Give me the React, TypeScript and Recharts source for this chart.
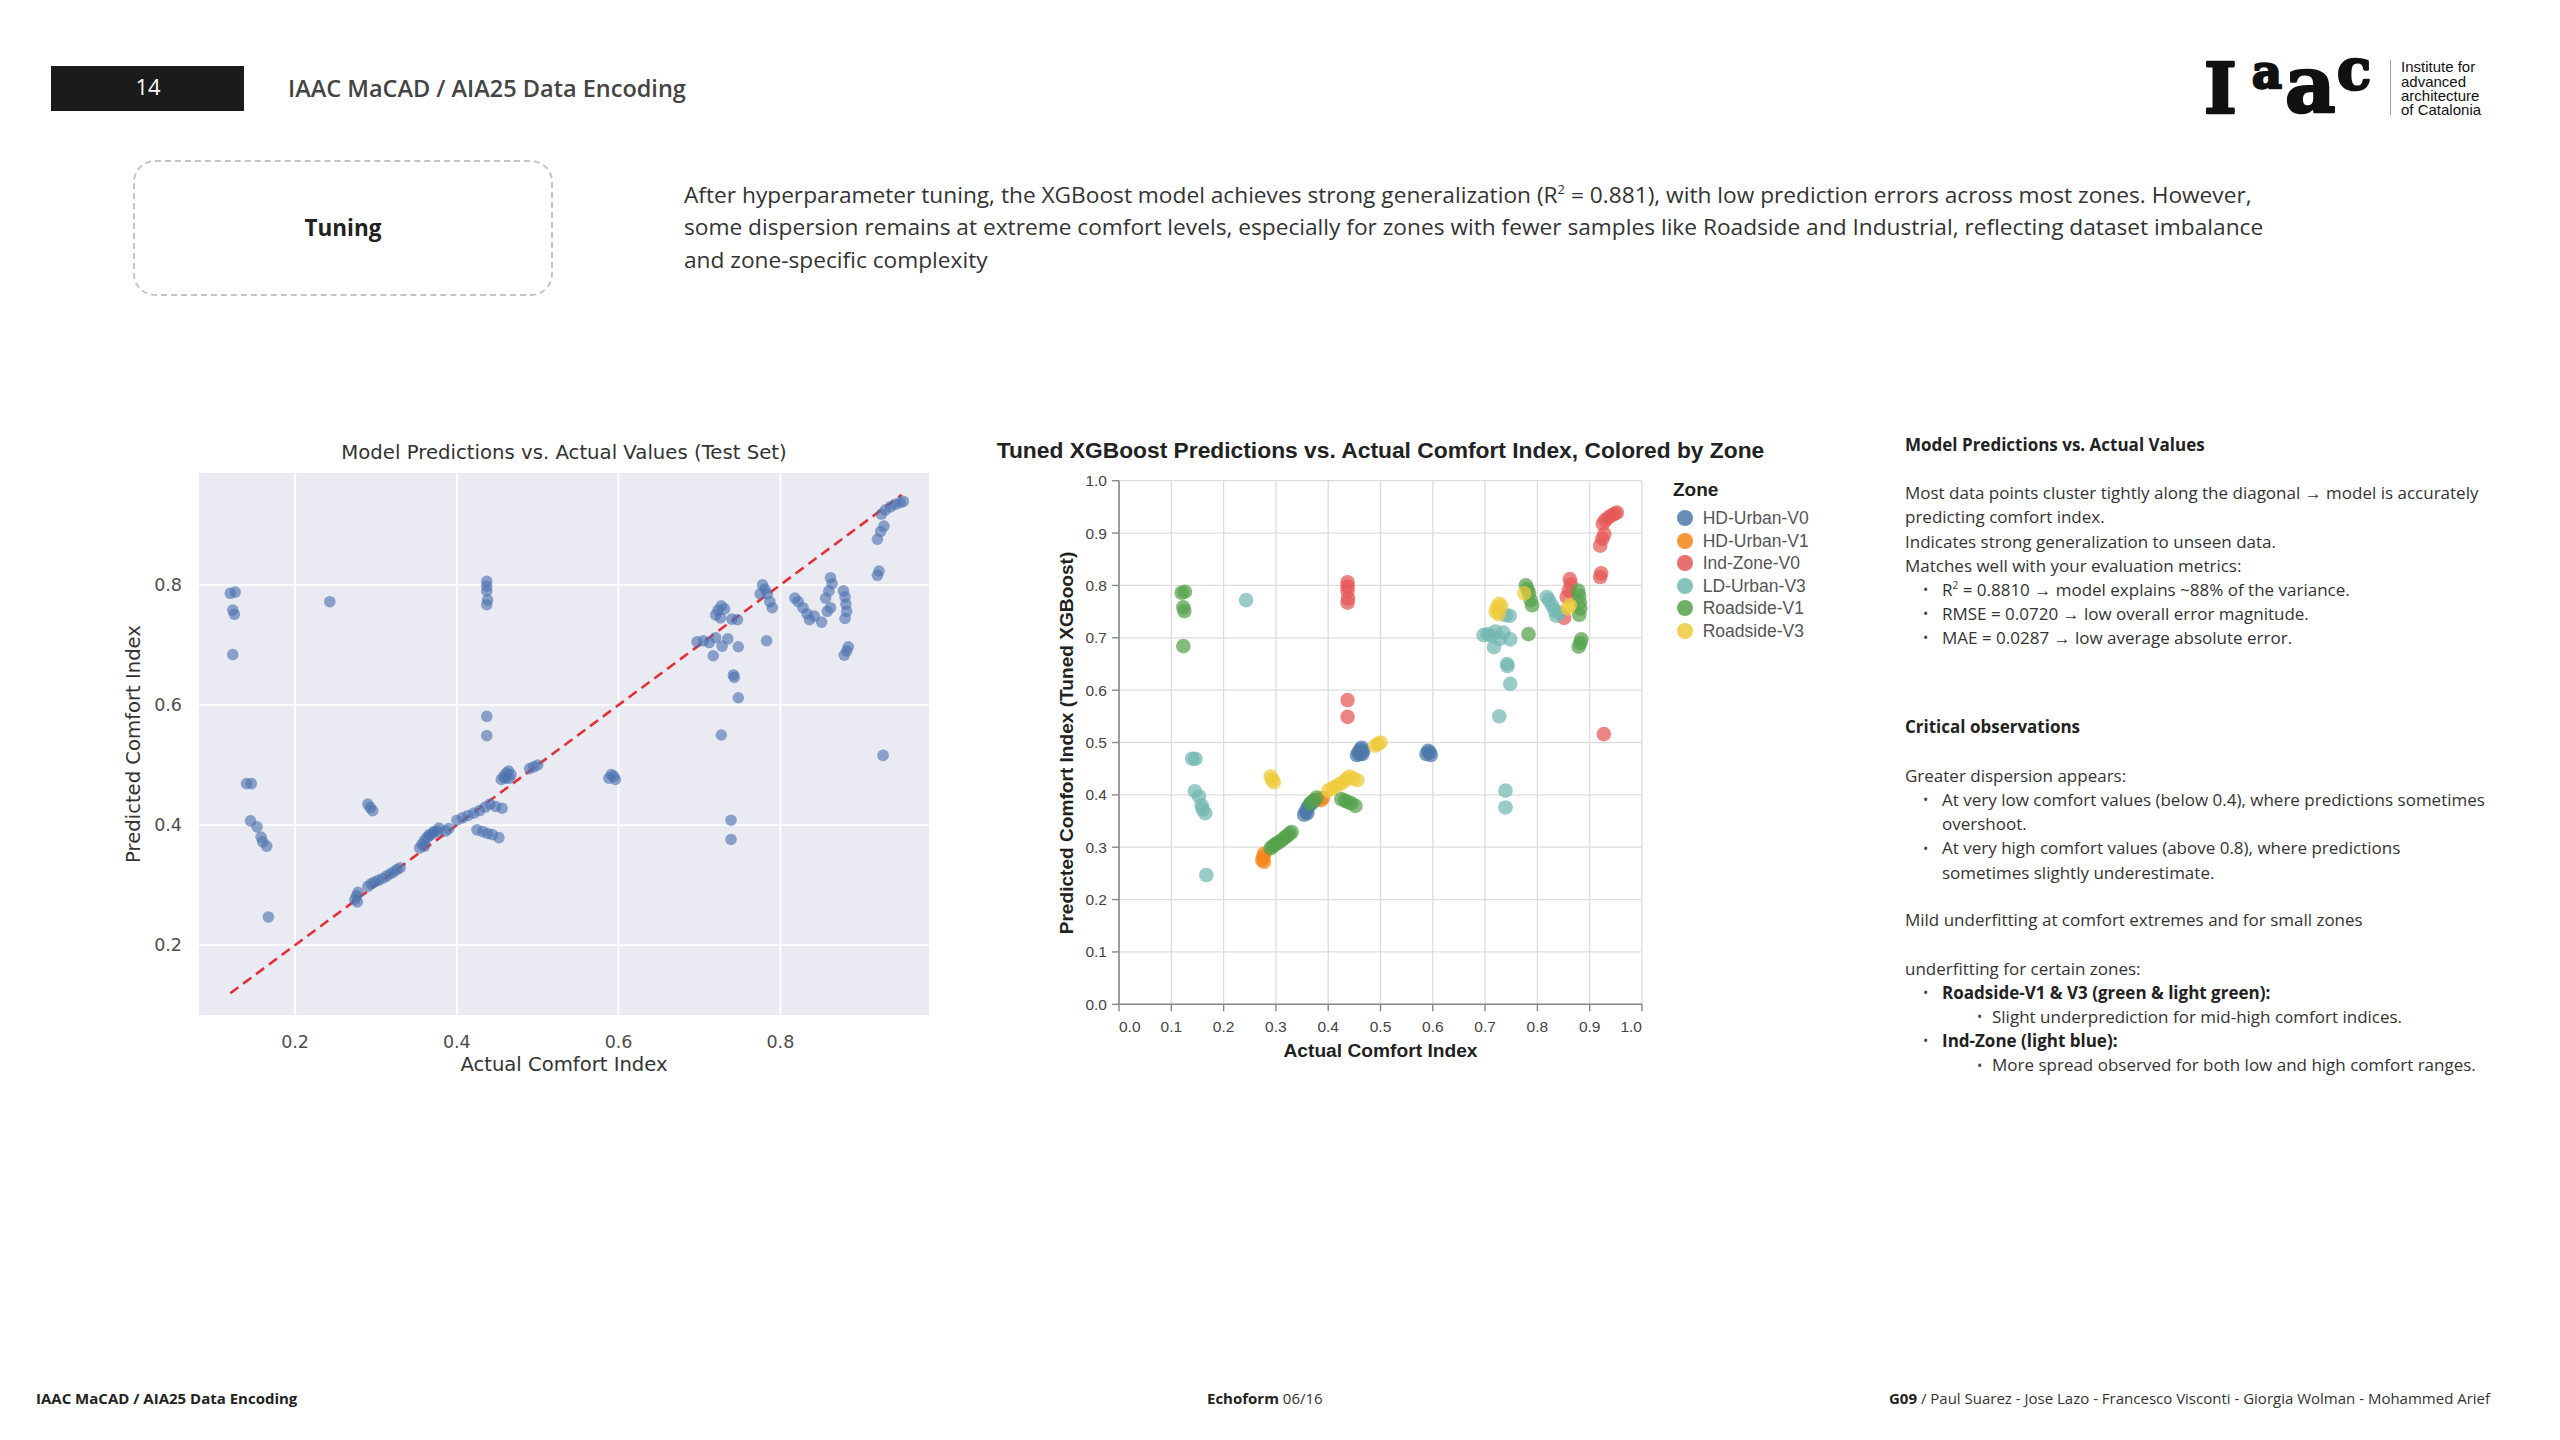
import React from 'react';
import { ScatterChart, Scatter, XAxis, YAxis, CartesianGrid, ReferenceLine, Legend } from 'recharts';

// ---------------- DATA ----------------
const zoneNames = ['HD-Urban-V0', 'HD-Urban-V1', 'Ind-Zone-V0', 'LD-Urban-V3', 'Roadside-V1', 'Roadside-V3'];
const zoneColors = ['#4c78a8', '#f58518', '#e45756', '#72b7b2', '#54a24b', '#eeca3b'];

// [actual, predicted]
const hdUrbanV0: [number, number][] = [
  [0.354, 0.362], [0.357, 0.368], [0.36, 0.374], [0.363, 0.379], [0.367, 0.383], [0.371, 0.387], [0.376, 0.39], [0.36, 0.365],
  [0.455, 0.476], [0.458, 0.481], [0.461, 0.486], [0.464, 0.49], [0.467, 0.484], [0.46, 0.478], [0.465, 0.478],
  [0.588, 0.478], [0.591, 0.484], [0.594, 0.481], [0.596, 0.476],
];
const hdUrbanV1: [number, number][] = [
  [0.274, 0.276], [0.276, 0.282], [0.278, 0.288], [0.277, 0.272], [0.386, 0.39], [0.39, 0.394],
];
const indZoneV0: [number, number][] = [
  [0.437, 0.806], [0.437, 0.798], [0.437, 0.79], [0.438, 0.775], [0.437, 0.767], [0.437, 0.581], [0.437, 0.549],
  [0.862, 0.812], [0.864, 0.802], [0.86, 0.79], [0.856, 0.778], [0.851, 0.738],
  [0.92, 0.816], [0.922, 0.823], [0.92, 0.876], [0.924, 0.889], [0.928, 0.898], [0.925, 0.918], [0.93, 0.925],
  [0.936, 0.93], [0.942, 0.934], [0.948, 0.937], [0.952, 0.939], [0.927, 0.516],
];
const ldUrbanV3: [number, number][] = [
  [0.14, 0.469], [0.146, 0.469], [0.145, 0.407], [0.153, 0.397], [0.158, 0.38], [0.16, 0.372], [0.165, 0.365], [0.167, 0.247],
  [0.243, 0.772], [0.697, 0.705], [0.705, 0.707], [0.712, 0.704], [0.717, 0.682], [0.72, 0.712], [0.728, 0.698],
  [0.735, 0.71], [0.74, 0.743], [0.747, 0.742], [0.748, 0.697], [0.742, 0.65], [0.743, 0.646], [0.748, 0.612],
  [0.727, 0.55], [0.739, 0.408], [0.739, 0.376], [0.818, 0.778], [0.822, 0.772], [0.828, 0.762], [0.833, 0.752],
  [0.836, 0.742], [0.842, 0.748],
];
const roadsideV1: [number, number][] = [
  [0.12, 0.786], [0.126, 0.788], [0.123, 0.758], [0.125, 0.751], [0.123, 0.684],
  [0.29, 0.298], [0.294, 0.302], [0.298, 0.305], [0.303, 0.308], [0.308, 0.311], [0.313, 0.315], [0.318, 0.319],
  [0.322, 0.322], [0.326, 0.326], [0.33, 0.329], [0.366, 0.384], [0.372, 0.389], [0.378, 0.395],
  [0.425, 0.392], [0.432, 0.389], [0.438, 0.386], [0.444, 0.384], [0.452, 0.379],
  [0.778, 0.8], [0.781, 0.793], [0.784, 0.785], [0.787, 0.772], [0.79, 0.762], [0.783, 0.707],
  [0.878, 0.79], [0.88, 0.78], [0.881, 0.768], [0.882, 0.756], [0.88, 0.744], [0.884, 0.697], [0.882, 0.69], [0.879, 0.683],
];
const roadsideV3: [number, number][] = [
  [0.29, 0.435], [0.293, 0.429], [0.296, 0.424], [0.4, 0.408], [0.407, 0.412], [0.414, 0.416], [0.421, 0.42],
  [0.428, 0.424], [0.435, 0.43], [0.441, 0.435], [0.448, 0.431], [0.456, 0.428], [0.49, 0.494], [0.495, 0.497],
  [0.5, 0.5], [0.72, 0.75], [0.723, 0.758], [0.726, 0.745], [0.727, 0.765], [0.731, 0.76], [0.775, 0.785],
  [0.858, 0.756], [0.862, 0.762],
];

const zoneSeries = [hdUrbanV0, hdUrbanV1, indZoneV0, ldUrbanV3, roadsideV1, roadsideV3];

const diagLine = [0.12, 0.95];
const leftTicks = [0.2, 0.4, 0.6, 0.8];
const midTicks = [0, 0.1, 0.2, 0.3, 0.4, 0.5, 0.6, 0.7, 0.8, 0.9, 1.0];

// ---------------- STYLES ----------------
const SLIDE_FONT = '"Open Sans", "Noto Sans", sans-serif';
const MPL_FONT = '"DejaVu Sans", sans-serif';
const VEGA_FONT = '"Liberation Sans", Arial, sans-serif';

const toPts = (arr: [number, number][]) => arr.map(([x, y]) => ({ x, y }));
const allPoints = zoneSeries.flatMap((s) => toPts(s));

type TProps = {
  x: number; y: number; size: number; weight?: number; color?: string; family?: string;
  anchor?: 'start' | 'middle' | 'end'; lh?: number; children?: React.ReactNode; style?: React.CSSProperties;
};
const T = ({ x, y, size, weight = 400, color = '#333', family = SLIDE_FONT, anchor = 'start', lh, children, style }: TProps) => {
  const L = lh ?? Math.round(size * 1.4);
  const tx = anchor === 'middle' ? 'translateX(-50%)' : anchor === 'end' ? 'translateX(-100%)' : undefined;
  return (
    <div
      style={{
        position: 'absolute', left: x, top: y - L / 2 - size * 0.06, lineHeight: `${L}px`, fontSize: size,
        fontWeight: weight, color, fontFamily: family, whiteSpace: 'nowrap', transform: tx, ...style,
      }}
    >
      {children}
    </div>
  );
};

const RotT = ({ x, y, size, weight = 400, color = '#333', family, children }: TProps) => (
  <div
    style={{
      position: 'absolute', left: x, top: y, fontSize: size, fontWeight: weight, color, fontFamily: family,
      whiteSpace: 'nowrap', lineHeight: `${Math.round(size * 1.2)}px`,
      transform: 'translate(-50%, -50%) rotate(-90deg)',
    }}
  >
    {children}
  </div>
);

const FlushTick = (props: any) => {
  const { x, y, payload } = props;
  const v = payload.value as number;
  const anchor = v <= 0.0001 ? 'start' : v >= 0.9999 ? 'end' : 'middle';
  return (
    <text x={x} y={y} dy="0.71em" textAnchor={anchor} fontSize={15.5} fill="#444" fontFamily={VEGA_FONT}>
      {v.toFixed(1)}
    </text>
  );
};

const VegaLegend = () => (
  <div style={{ position: 'relative', width: 190, height: 170, fontFamily: VEGA_FONT }}>
    <div style={{ position: 'absolute', left: 0, top: 0, lineHeight: '20px', fontSize: 19, fontWeight: 700, color: '#222' }}>Zone</div>
    {zoneNames.map((n, i) => (
      <div key={n} style={{ position: 'absolute', left: 0, top: 38.3 + 22.5 * i - 10, height: 20, width: 190 }}>
        <div
          style={{
            position: 'absolute', left: 4, top: 2, width: 16, height: 16, borderRadius: '50%',
            background: zoneColors[i], opacity: 0.85,
          }}
        />
        <div style={{ position: 'absolute', left: 29.7, top: 0, lineHeight: '20px', fontSize: 17.5, color: '#555' }}>{n}</div>
      </div>
    ))}
  </div>
);

const LeftChart = () => (
  <div style={{ position: 'absolute', left: 100, top: 420 }}>
    <ScatterChart width={860} height={680} margin={{ top: 52, right: 30, left: 18, bottom: 34 }}>
      <CartesianGrid fill="#eaeaf2" stroke="#ffffff" strokeWidth={1.8} />
      <XAxis
        type="number" dataKey="x" domain={[0.08, 0.985]} ticks={leftTicks} interval={0} allowDataOverflow
        axisLine={false} tickLine={false} height={50} tickMargin={14}
        tick={{ fontFamily: MPL_FONT, fontSize: 17.5, fill: '#4d4d4d' }}
        tickFormatter={(v: number) => v.toFixed(1)}
      />
      <YAxis
        type="number" dataKey="y" domain={[0.082, 0.988]} ticks={leftTicks} interval={0} allowDataOverflow
        axisLine={false} tickLine={false} width={80} tickMargin={10}
        tick={{ fontFamily: MPL_FONT, fontSize: 17.5, fill: '#4d4d4d' }}
        tickFormatter={(v: number) => v.toFixed(1)}
      />
      <Scatter
        data={allPoints} isAnimationActive={false}
        shape={(p: any) => <circle cx={p.cx} cy={p.cy} r={5.8} fill="#4c72b0" fillOpacity={0.62} />}
      />
      <ReferenceLine
        segment={[{ x: diagLine[0], y: diagLine[0] }, { x: diagLine[1], y: diagLine[1] }]}
        stroke="#e2303a" strokeWidth={2.6} strokeDasharray="10 6" ifOverflow="visible"
      />
    </ScatterChart>
  </div>
);

const MiddleChart = () => (
  <div style={{ position: 'absolute', left: 980, top: 420 }}>
    <ScatterChart width={880} height={680} margin={{ top: 60.7, right: 218, left: 79, bottom: 55.7 }}>
      <CartesianGrid stroke="#dddddd" strokeWidth={1.3} />
      <XAxis
        type="number" dataKey="x" domain={[0, 1]} ticks={midTicks} interval={0}
        axisLine={{ stroke: '#888', strokeWidth: 1.6 }} tickLine={{ stroke: '#888', strokeWidth: 1.4 }}
        tickSize={7} tickMargin={10} height={40} tick={<FlushTick />}
      />
      <YAxis
        type="number" dataKey="y" domain={[0, 1]} ticks={midTicks} interval={0}
        axisLine={{ stroke: '#888', strokeWidth: 1.6 }} tickLine={{ stroke: '#888', strokeWidth: 1.4 }}
        tickSize={7} tickMargin={5} width={60}
        tick={{ fontFamily: VEGA_FONT, fontSize: 15.5, fill: '#444' }}
        tickFormatter={(v: number) => v.toFixed(1)}
      />
      {zoneSeries.map((s, i) => (
        <Scatter
          key={zoneNames[i]} name={zoneNames[i]} data={toPts(s)} fill={zoneColors[i]} isAnimationActive={false}
          shape={(p: any) => <circle cx={p.cx} cy={p.cy} r={7.3} fill={zoneColors[i]} fillOpacity={0.72} />}
        />
      ))}
      <Legend
        layout="horizontal" verticalAlign="middle" align="center"
        wrapperStyle={{ left: 693, top: 60, width: 190, height: 170 }}
        content={() => <VegaLegend />}
      />
    </ScatterChart>
  </div>
);

const Logo = () => (
  <>
    <svg style={{ position: 'absolute', left: 0, top: 0 }} width={2560} height={140}>
      <g fontFamily='"DejaVu Serif", serif' fontWeight={700} fill="#111" stroke="#111" strokeWidth={2.6} strokeLinejoin="round">
        <text x={2204} y={113} fontSize={70}>I</text>
        <text x={2252} y={88} fontSize={46}>a</text>
        <text x={2285} y={112} fontSize={78}>a</text>
        <text x={2337} y={89} fontSize={56}>c</text>
      </g>
    </svg>
    <div style={{ position: 'absolute', left: 2390, top: 60, width: 1, height: 55, background: '#999' }} />
    {['Institute for', 'advanced', 'architecture', 'of Catalonia'].map((s, i) => (
      <T key={s} x={2401} y={67.7 + 14.3 * i} size={15} lh={15} color="#111" family={VEGA_FONT}>{s}</T>
    ))}
  </>
);

const Bullet = ({ x, y }: { x: number; y: number }) => (
  <T x={x} y={y} size={14} color="#444">•</T>
);

const RS = 17; // right column font size

export default function App() {
  return (
    <div
      style={{
        position: 'absolute', left: 0, top: 0, width: 2560, height: 1440, background: '#ffffff',
        overflow: 'hidden', fontFamily: SLIDE_FONT,
      }}
    >
      {/* Header */}
      <div style={{ position: 'absolute', left: 51, top: 65.5, width: 193, height: 45.5, background: '#1b1b1b' }} />
      <T x={148} y={88.3} size={22} color="#ffffff" anchor="middle">14</T>
      <T x={288} y={90} size={23.5} weight={600} color="#444">IAAC MaCAD / AIA25 Data Encoding</T>
      <Logo />

      {/* Tuning box */}
      <div
        style={{
          position: 'absolute', left: 133, top: 160, width: 420, height: 136, border: '2px dashed #c4c4c4',
          borderRadius: 22, boxSizing: 'border-box',
        }}
      />
      <T x={343} y={229} size={22.5} weight={700} color="#222" anchor="middle">Tuning</T>

      {/* Intro paragraph */}
      <T x={684} y={196} size={22.7} color="#333">
        After hyperparameter tuning, the XGBoost model achieves strong generalization (R<sup style={{ fontSize: 13, lineHeight: 0 }}>2</sup> = 0.881), with low prediction errors across most zones. However,
      </T>
      <T x={684} y={228.6} size={22.7} color="#333">
        some dispersion remains at extreme comfort levels, especially for zones with fewer samples like Roadside and Industrial, reflecting dataset imbalance
      </T>
      <T x={684} y={261} size={22.7} color="#333">and zone-specific complexity</T>

      {/* Left chart */}
      <T x={564} y={454.5} size={19.7} color="#333" family={MPL_FONT} anchor="middle">
        Model Predictions vs. Actual Values (Test Set)
      </T>
      <LeftChart />
      <T x={564} y={1066} size={19.6} color="#333" family={MPL_FONT} anchor="middle">Actual Comfort Index</T>
      <RotT x={133.6} y={744} size={19.6} color="#333" family={MPL_FONT}>Predicted Comfort Index</RotT>

      {/* Middle chart */}
      <T x={1380.5} y={451.6} size={22.8} weight={700} color="#222" family={VEGA_FONT} anchor="middle">
        Tuned XGBoost Predictions vs. Actual Comfort Index, Colored by Zone
      </T>
      <MiddleChart />
      <T x={1380.5} y={1051.3} size={19.2} weight={700} color="#222" family={VEGA_FONT} anchor="middle">Actual Comfort Index</T>
      <RotT x={1065.7} y={742.5} size={19.1} weight={700} color="#222" family={VEGA_FONT}>
        Predicted Comfort Index (Tuned XGBoost)
      </RotT>

      {/* Right column */}
      <T x={1905} y={446} size={RS} weight={700} color="#222">Model Predictions vs. Actual Values</T>
      <T x={1905} y={494} size={RS}>Most data points cluster tightly along the diagonal → model is accurately</T>
      <T x={1905} y={518.5} size={RS}>predicting comfort index.</T>
      <T x={1905} y={543} size={RS}>Indicates strong generalization to unseen data.</T>
      <T x={1905} y={567} size={RS}>Matches well with your evaluation metrics:</T>
      <Bullet x={1923} y={591} />
      <T x={1942} y={591} size={RS}>R<sup style={{ fontSize: 10, lineHeight: 0 }}>2</sup> = 0.8810 → model explains ~88% of the variance.</T>
      <Bullet x={1923} y={615} />
      <T x={1942} y={615} size={RS}>RMSE = 0.0720 → low overall error magnitude.</T>
      <Bullet x={1923} y={639} />
      <T x={1942} y={639} size={RS}>MAE = 0.0287 → low average absolute error.</T>

      <T x={1905} y={728} size={RS} weight={700} color="#222">Critical observations</T>
      <T x={1905} y={777} size={RS}>Greater dispersion appears:</T>
      <Bullet x={1923} y={801} />
      <T x={1942} y={801} size={RS}>At very low comfort values (below 0.4), where predictions sometimes</T>
      <T x={1942} y={825.5} size={RS}>overshoot.</T>
      <Bullet x={1923} y={849.5} />
      <T x={1942} y={849.5} size={RS}>At very high comfort values (above 0.8), where predictions</T>
      <T x={1942} y={874} size={RS}>sometimes slightly underestimate.</T>
      <T x={1905} y={921.5} size={RS}>Mild underfitting at comfort extremes and for small zones</T>
      <T x={1905} y={970} size={RS}>underfitting for certain zones:</T>
      <Bullet x={1923} y={994} />
      <T x={1942} y={994} size={RS} weight={700} color="#222">Roadside-V1 &amp; V3 (green &amp; light green):</T>
      <Bullet x={1977} y={1018} />
      <T x={1992} y={1018} size={RS}>Slight underprediction for mid-high comfort indices.</T>
      <Bullet x={1923} y={1042} />
      <T x={1942} y={1042} size={RS} weight={700} color="#222">Ind-Zone (light blue):</T>
      <Bullet x={1977} y={1066.5} />
      <T x={1992} y={1066.5} size={RS}>More spread observed for both low and high comfort ranges.</T>

      {/* Footer */}
      <T x={36} y={1399} size={15} weight={700} color="#222">IAAC MaCAD / AIA25 Data Encoding</T>
      <T x={1207} y={1399} size={15} color="#333"><b style={{ color: '#222' }}>Echoform</b> 06/16</T>
      <T x={1889} y={1399} size={15} color="#333">
        <b style={{ color: '#222' }}>G09</b> / Paul Suarez - Jose Lazo - Francesco Visconti - Giorgia Wolman - Mohammed Arief
      </T>
    </div>
  );
}
